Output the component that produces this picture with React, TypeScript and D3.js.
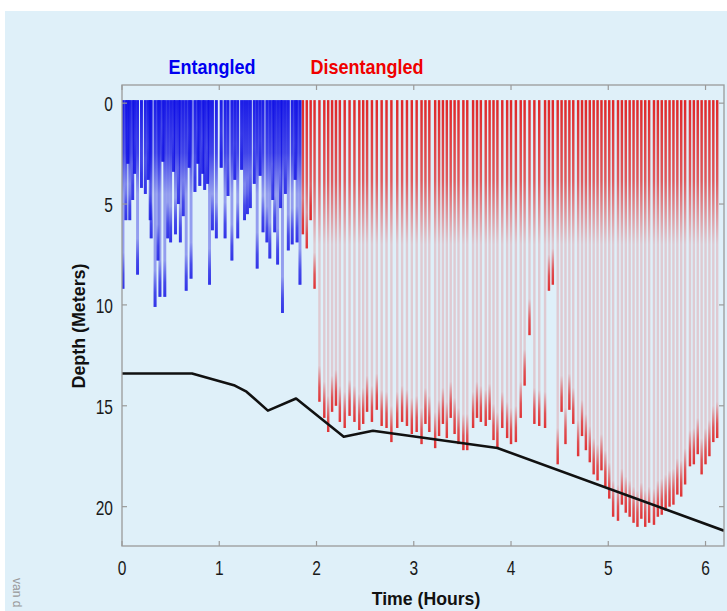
import React from 'react';
import * as d3 from 'd3';

// dive profile: time of each dive (hours) and its maximum depth (m)
const blueTimes = [0.01, 0.04, 0.06, 0.08, 0.11, 0.13, 0.16, 0.2, 0.24, 0.27, 0.29, 0.3, 0.34, 0.37, 0.39, 0.42, 0.44, 0.47, 0.5, 0.53, 0.55, 0.58, 0.6, 0.63, 0.66, 0.69, 0.71, 0.75, 0.78, 0.8, 0.83, 0.85, 0.88, 0.9, 0.93, 0.97, 1.02, 1.06, 1.09, 1.13, 1.16, 1.19, 1.23, 1.26, 1.29, 1.32, 1.36, 1.39, 1.42, 1.45, 1.49, 1.52, 1.55, 1.57, 1.6, 1.63, 1.65, 1.68, 1.71, 1.75, 1.78, 1.8, 1.83];
const blueDepths = [9.2, 5.8, 3.0, 5.8, 4.8, 3.5, 8.5, 4.2, 4.5, 3.8, 5.8, 6.7, 10.1, 7.8, 9.6, 2.9, 9.6, 6.7, 6.9, 3.4, 6.5, 5.0, 6.9, 5.6, 9.3, 3.2, 8.7, 4.4, 3.0, 4.1, 3.5, 4.3, 4.0, 9.0, 6.3, 6.7, 3.2, 6.7, 4.6, 7.8, 3.8, 6.7, 3.3, 5.8, 5.5, 5.2, 4.0, 8.2, 3.6, 6.4, 6.9, 7.7, 4.8, 6.4, 8.0, 5.2, 10.4, 4.5, 7.3, 7.0, 3.8, 6.9, 9.0];

const redTimes = [1.86, 1.9, 1.94, 1.98, 2.03, 2.08, 2.12, 2.16, 2.2, 2.24, 2.29, 2.34, 2.39, 2.44, 2.48, 2.52, 2.57, 2.62, 2.67, 2.72, 2.77, 2.83, 2.88, 2.93, 2.98, 3.03, 3.08, 3.12, 3.16, 3.22, 3.26, 3.3, 3.34, 3.38, 3.42, 3.46, 3.51, 3.55, 3.61, 3.65, 3.69, 3.74, 3.78, 3.82, 3.86, 3.91, 3.96, 4.0, 4.05, 4.1, 4.14, 4.19, 4.24, 4.29, 4.35, 4.39, 4.43, 4.48, 4.52, 4.56, 4.6, 4.64, 4.69, 4.73, 4.77, 4.81, 4.85, 4.89, 4.93, 4.97, 5.01, 5.05, 5.1, 5.14, 5.18, 5.22, 5.26, 5.3, 5.34, 5.38, 5.42, 5.47, 5.51, 5.55, 5.59, 5.63, 5.67, 5.71, 5.75, 5.79, 5.84, 5.88, 5.92, 5.96, 6.0, 6.04, 6.08, 6.12];
const redDepths = [6.5, 7.2, 5.8, 9.2, 14.8, 15.6, 16.3, 15.3, 15.0, 15.8, 16.1, 15.5, 15.8, 16.2, 15.9, 15.3, 15.8, 15.2, 16.0, 16.1, 16.8, 16.1, 15.8, 16.0, 16.4, 16.3, 16.9, 15.9, 16.3, 17.1, 16.5, 15.9, 16.6, 15.6, 16.4, 16.9, 17.2, 17.2, 16.1, 15.6, 15.8, 16.0, 15.7, 16.7, 17.1, 16.1, 16.6, 16.9, 16.8, 15.6, 14.0, 11.5, 15.9, 16.0, 16.1, 9.3, 9.0, 17.9, 15.3, 16.9, 15.2, 15.9, 17.5, 16.5, 17.2, 17.8, 18.4, 18.7, 18.2, 19.0, 19.6, 20.5, 20.7, 19.9, 20.3, 20.5, 20.8, 21.0, 20.6, 21.0, 20.8, 20.9, 20.5, 20.4, 20.2, 20.0, 19.9, 19.4, 19.5, 18.9, 18.0, 17.9, 17.4, 18.4, 17.9, 17.5, 16.8, 16.6];

// black reference line
const lineTimes = [0, 0.72, 1.16, 1.28, 1.5, 1.79, 2.28, 2.58, 3.86, 6.19];
const lineDepths = [13.4, 13.4, 14.0, 14.3, 15.24, 14.64, 16.53, 16.24, 17.09, 21.19];

const xTicks = [0, 1, 2, 3, 4, 5, 6];
const yTicks = [0, 5, 10, 15, 20];

const W = 727;
const H = 611;
const left = 122, right = 724, top = 85, bottom = 546;
const font = '"Liberation Sans", Arial, sans-serif';

// condensed text: squeeze a normal face horizontally
function T({ x, y, anchor = 'start', size, fill, bold = false, sx = 0.74, rotate = 0, children }: any) {
  return (
    <g transform={`translate(${x},${y}) rotate(${rotate}) scale(${sx},1)`}>
      <text textAnchor={anchor} fontFamily={font} fontSize={size} fontWeight={bold ? 'bold' : 'normal'} fill={fill}>{children}</text>
    </g>
  );
}

export default function App() {
  const x = d3.scaleLinear().domain([0, 6.19]).range([left, right]);
  const y = d3.scaleLinear().domain([-0.9, 21.95]).range([top, bottom]);

  const blue = blueTimes.map((t, i) => ({ t, d: blueDepths[i] }));
  const red = redTimes.map((t, i) => ({ t, d: redDepths[i] }));
  const line = d3.line<number>().x((d, i) => x(lineTimes[i])).y(d => y(d));

  const dive = (d: { t: number; d: number }, i: number, c: string, w: number, base: number) => (
    <g key={c + i}>
      <rect x={x(d.t) - w / 2} y={y(-0.15)} width={w} height={y(d.d) - y(-0.15)} fill={c === 'red' ? '#e01010' : '#2020e0'} opacity={base} />
      <rect x={x(d.t) - w / 2} y={y(-0.15)} width={w} height={y(d.d) - y(-0.15)} fill={`url(#top-${c})`} />
      <rect x={x(d.t) - w / 2} y={y(d.d - 1.8)} width={w} height={y(d.d) - y(d.d - 1.8)} fill={`url(#bot-${c})`} />
    </g>
  );

  return (
    <div style={{ position: 'absolute', left: 0, top: 0 }}>
      <svg width={W} height={H} style={{ display: 'block', background: '#fff' }}>
        <defs>
          <clipPath id="plot">
            <rect x={left} y={top} width={right - left} height={bottom - top} />
          </clipPath>
          {[['red', '#e00000', 7, 0.8], ['blue', '#1010e6', 4.5, 0.9]].map(([k, c, band, op]) => (
            <React.Fragment key={k as string}>
              <linearGradient id={`top-${k}`} gradientUnits="userSpaceOnUse" x1="0" x2="0" y1={y(0)} y2={y(band as number)}>
                <stop offset="0" stopColor={c as string} stopOpacity={op as number} />
                <stop offset="0.55" stopColor={c as string} stopOpacity={(op as number) * 0.7} />
                <stop offset="1" stopColor={c as string} stopOpacity={0} />
              </linearGradient>
              <linearGradient id={`bot-${k}`} x1="0" x2="0" y1="0" y2="1">
                <stop offset="0" stopColor={c as string} stopOpacity={0} />
                <stop offset="0.6" stopColor={c as string} stopOpacity={0.6} />
                <stop offset="1" stopColor={c as string} stopOpacity={0.75} />
              </linearGradient>
            </React.Fragment>
          ))}
        </defs>

        <rect x={5} y={11} width={W - 5} height={H - 11} fill="#dff0f9" />

        <g clipPath="url(#plot)">
          {red.map((d, i) => dive(d, i, 'red', 2.4, 0.17))}
          {blue.map((d, i) => dive(d, i, 'blue', 2.9, 0.4))}
          <path d={line(lineDepths) || ''} fill="none" stroke="#111" strokeWidth={2.6} strokeLinejoin="round" />
        </g>

        {/* frame and inward ticks */}
        <rect x={left} y={top} width={right - left} height={bottom - top} fill="none" stroke="#9a9a9a" strokeWidth={1.3} />
        {xTicks.map(t => (
          <g key={'xt' + t} stroke="#9a9a9a" strokeWidth={1.2}>
            <line x1={x(t)} x2={x(t)} y1={top} y2={top + 5} />
            <line x1={x(t)} x2={x(t)} y1={bottom} y2={bottom - 5} />
          </g>
        ))}
        {yTicks.map(t => (
          <g key={'yt' + t} stroke="#9a9a9a" strokeWidth={1.2}>
            <line x1={left} x2={left + 5} y1={y(t)} y2={y(t)} />
            <line x1={right} x2={right - 5} y1={y(t)} y2={y(t)} />
          </g>
        ))}

        {xTicks.map(t => (
          <T key={'xl' + t} x={x(t)} y={575} anchor="middle" size={21} fill="#1a1a1a" sx={0.74}>{t}</T>
        ))}
        {yTicks.map(t => (
          <T key={'yl' + t} x={113} y={y(t) + 8} anchor="end" size={21} fill="#1a1a1a" sx={0.74}>{t}</T>
        ))}

        <T x={212} y={74} anchor="middle" size={20} fill="#0000f0" bold sx={0.9}>Entangled</T>
        <T x={367} y={74} anchor="middle" size={20} fill="#f00000" bold sx={0.9}>Disentangled</T>
        <T x={426} y={605} anchor="middle" size={19} fill="#111" bold sx={0.93}>Time (Hours)</T>
        <T x={85} y={326} anchor="middle" size={19} fill="#111" bold rotate={-90} sx={0.94}>Depth (Meters)</T>
        <T x={13} y={578} size={12} fill="#999" rotate={90} sx={1}>van d</T>
      </svg>
    </div>
  );
}
